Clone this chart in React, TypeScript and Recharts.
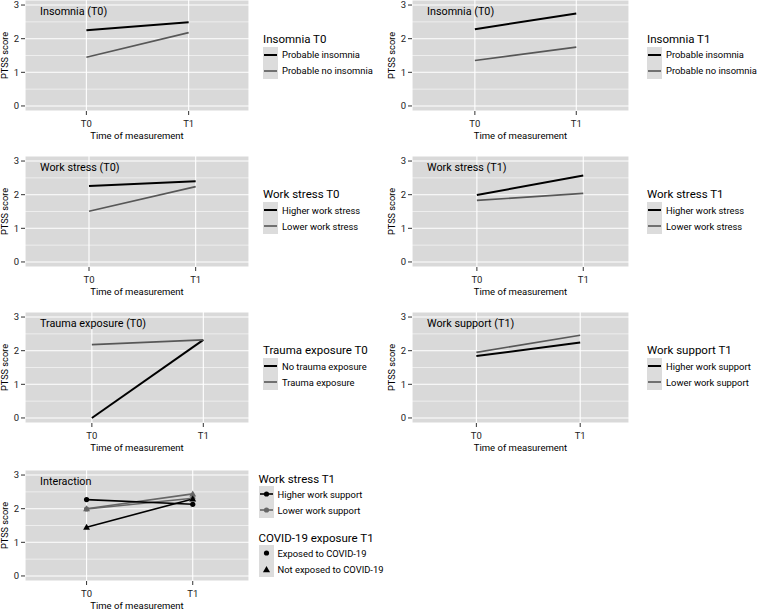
import React from 'react';
import { LineChart, Line, XAxis, YAxis, CartesianGrid } from 'recharts';

const timePoints = ['T0', 'T1'];
const yTicks = [0, 1, 2, 3];
const minorY = [0.5, 1.5, 2.5];

const insomniaT0Probable = [2.25, 2.49];
const insomniaT0NotProbable = [1.45, 2.18];
const insomniaT1Probable = [2.28, 2.75];
const insomniaT1NotProbable = [1.35, 1.75];
const workStressT0Higher = [2.26, 2.4];
const workStressT0Lower = [1.51, 2.24];
const workStressT1Higher = [1.99, 2.57];
const workStressT1Lower = [1.83, 2.04];
const traumaNone = [0.0, 2.32];
const traumaExposed = [2.18, 2.32];
const supportHigher = [1.84, 2.24];
const supportLower = [1.95, 2.46];
const higherExposed = [2.27, 2.13];
const higherNotExposed = [1.45, 2.29];
const lowerExposed = [1.99, 2.31];
const lowerNotExposed = [2.0, 2.44];

const BLACK = '#000000';
const GREY = '#575757';
const GREY_PT = '#666666';
const PANEL_BG = '#d9d9d9';
const KEY_BG = '#dcdcdc';
const FONT = 'Roboto, sans-serif';

type Shape = 'circle' | 'triangle';
type Series = { name: string; values: number[]; color: string; width: number; shape?: Shape };
type LegendItem = { label: string; color: string; width?: number; line: boolean; shape?: Shape };
type LegendGroup = { title: string; items: LegendItem[] };

type Panel = {
  title: string;
  series: Series[];
  legend: LegendGroup[];
  col: 0 | 1;
  plotTop: number;
  xDomain: [number, number];
  legendTop?: number;
  legendX?: number;
};

const cols = [
  { svgLeft: 0, axisW: 25, plotW: 224, legendX: 263, labelDx: -7.5 },
  { svgLeft: 384, axisW: 28, plotW: 217, legendX: 647, labelDx: -6 },
];

const pair = (a: string, b: string, va: number[], vb: number[]): Series[] => [
  { name: a, values: va, color: BLACK, width: 2 },
  { name: b, values: vb, color: GREY, width: 1.6 },
];
const pairLegend = (title: string, a: string, b: string): LegendGroup[] => [
  {
    title,
    items: [
      { label: a, color: BLACK, width: 2, line: true },
      { label: b, color: GREY, width: 1.6, line: true },
    ],
  },
];

const panels: Panel[] = [
  {
    title: 'Insomnia (T0)',
    series: pair('Probable insomnia', 'Probable no insomnia', insomniaT0Probable, insomniaT0NotProbable),
    legend: pairLegend('Insomnia T0', 'Probable insomnia', 'Probable no insomnia'),
    col: 0,
    plotTop: 0,
    xDomain: [0.4, 2.59],
  },
  {
    title: 'Insomnia (T0)',
    series: pair('Probable insomnia', 'Probable no insomnia', insomniaT1Probable, insomniaT1NotProbable),
    legend: pairLegend('Insomnia T1', 'Probable insomnia', 'Probable no insomnia'),
    col: 1,
    plotTop: 0,
    xDomain: [0.38, 2.52],
  },
  {
    title: 'Work stress (T0)',
    series: pair('Higher work stress', 'Lower work stress', workStressT0Higher, workStressT0Lower),
    legend: pairLegend('Work stress T0', 'Higher work stress', 'Lower work stress'),
    col: 0,
    plotTop: 155.5,
    xDomain: [0.4, 2.5],
  },
  {
    title: 'Work stress (T1)',
    series: pair('Higher work stress', 'Lower work stress', workStressT1Higher, workStressT1Lower),
    legend: pairLegend('Work stress T1', 'Higher work stress', 'Lower work stress'),
    col: 1,
    plotTop: 155.5,
    xDomain: [0.39, 2.43],
  },
  {
    title: 'Trauma exposure (T0)',
    series: pair('No trauma exposure', 'Trauma exposure', traumaNone, traumaExposed),
    legend: pairLegend('Trauma exposure T0', 'No trauma exposure', 'Trauma exposure'),
    col: 0,
    plotTop: 311.7,
    xDomain: [0.4, 2.41],
  },
  {
    title: 'Work support (T1)',
    series: pair('Higher work support', 'Lower work support', supportHigher, supportLower),
    legend: pairLegend('Work support T1', 'Higher work support', 'Lower work support'),
    col: 1,
    plotTop: 311.7,
    xDomain: [0.38, 2.47],
  },
  {
    title: 'Interaction',
    series: [
      { name: 'Lower, not exposed', values: lowerNotExposed, color: GREY_PT, width: 1.6, shape: 'triangle' },
      { name: 'Lower, exposed', values: lowerExposed, color: GREY_PT, width: 1.6, shape: 'circle' },
      { name: 'Higher, not exposed', values: higherNotExposed, color: BLACK, width: 1.6, shape: 'triangle' },
      { name: 'Higher, exposed', values: higherExposed, color: BLACK, width: 1.6, shape: 'circle' },
    ],
    legend: [
      {
        title: 'Work stress T1',
        items: [
          { label: 'Higher work support', color: BLACK, width: 1.6, line: true, shape: 'circle' },
          { label: 'Lower work support', color: GREY_PT, width: 1.6, line: true, shape: 'circle' },
        ],
      },
      {
        title: 'COVID-19 exposure T1',
        items: [
          { label: 'Exposed to COVID-19', color: BLACK, line: false, shape: 'circle' },
          { label: 'Not exposed to COVID-19', color: BLACK, line: false, shape: 'triangle' },
        ],
      },
    ],
    col: 0,
    plotTop: 469.5,
    xDomain: [0.42, 2.53],
    legendTop: 2.5,
    legendX: 258.5,
  },
];

const MARGIN_TOP = 6;
const PLOT_H = 111;
const XAXIS_H = 32;

const trianglePath = (cx: number, cy: number, s: number) =>
  `M${cx},${cy - s * 1.05} L${cx + s * 1.05},${cy + s * 0.8} L${cx - s * 1.05},${cy + s * 0.8} Z`;

const makeDot = (shape: Shape, color: string) => (props: any) => {
  const { cx, cy, index } = props;
  if (cx == null || cy == null) return <g key={index} />;
  if (shape === 'triangle') return <path key={index} d={trianglePath(cx, cy, 3.3)} fill={color} />;
  return <circle key={index} cx={cx} cy={cy} r={2.6} fill={color} />;
};

function KeyGlyph({ item, w }: { item: LegendItem; w: number }) {
  return (
    <svg width={w} height={16} style={{ display: 'block' }}>
      <rect x={0} y={0} width={w} height={16} fill={KEY_BG} />
      {item.line && <line x1={1} x2={w - 1} y1={8} y2={8} stroke={item.color} strokeWidth={item.width} />}
      {item.shape === 'circle' && <circle cx={w / 2} cy={8} r={2.6} fill={item.color} />}
      {item.shape === 'triangle' && <path d={trianglePath(w / 2, 8.5, 3.4)} fill={item.color} />}
    </svg>
  );
}

function PanelLegend({ groups, left, top }: { groups: LegendGroup[]; left: number; top: number }) {
  const multi = groups.length > 1;
  return (
    <div style={{ position: 'absolute', left, top, fontFamily: FONT, color: '#000' }}>
      {groups.map((g, gi) => (
        <div key={g.title} style={{ marginTop: gi > 0 ? 13 : 0 }}>
          <div style={{ fontSize: 11.5, height: multi ? 14 : 16, lineHeight: multi ? '14px' : '16px', whiteSpace: 'nowrap' }}>
            {g.title}
          </div>
          {g.items.map((it) => (
            <div key={it.label} style={{ display: 'flex', alignItems: 'center', height: 16 }}>
              <KeyGlyph item={it} w={15} />
              <span style={{ fontSize: 9.4, marginLeft: 4, whiteSpace: 'nowrap' }}>{it.label}</span>
            </div>
          ))}
        </div>
      ))}
    </div>
  );
}

function PanelChart({ p }: { p: Panel }) {
  const c = cols[p.col];
  const width = c.axisW + c.plotW + 1;
  const height = MARGIN_TOP + PLOT_H + XAXIS_H;
  const data = timePoints.map((t, i) => {
    const row: Record<string, number | string> = { x: i + 1, time: t };
    p.series.forEach((s, si) => {
      row['s' + si] = s.values[i];
    });
    return row;
  });
  const plotLeft = c.svgLeft + c.axisW;
  const legendX = p.legendX ?? c.legendX;
  const legendTop = p.plotTop + (p.legendTop ?? 30.5);
  return (
    <>
      <div style={{ position: 'absolute', left: c.svgLeft, top: p.plotTop - MARGIN_TOP }}>
        <LineChart width={width} height={height} data={data} margin={{ top: MARGIN_TOP, right: 1, left: 0, bottom: 0 }}>
          <CartesianGrid fill={PANEL_BG} stroke="#ffffff" strokeWidth={1.1} />
          <CartesianGrid horizontalValues={minorY} vertical={false} stroke="#ffffff" strokeWidth={0.55} />
          <XAxis
            dataKey="x"
            type="number"
            domain={p.xDomain}
            allowDataOverflow
            ticks={[1, 2]}
            tickFormatter={(v: number) => timePoints[v - 1]}
            axisLine={false}
            tickLine={{ stroke: '#333' }}
            tickSize={4}
            tickMargin={5}
            tick={{ fontSize: 9.5, fill: '#222' }}
            height={XAXIS_H}
            label={{ value: 'Time of measurement', position: 'insideBottom', offset: 4, fontSize: 9.5, fill: '#000' }}
          />
          <YAxis
            type="number"
            domain={[-0.15, 3.15]}
            allowDataOverflow
            ticks={yTicks}
            axisLine={false}
            tickLine={{ stroke: '#333' }}
            tickSize={4}
            tickMargin={2}
            tick={{ fontSize: 9.5, fill: '#222' }}
            width={c.axisW}
            label={{ value: 'PTSS score', angle: -90, position: 'center', dx: c.labelDx, fontSize: 9.2, fill: '#000' }}
          />
          {p.series.map((s, si) => (
            <Line
              key={s.name}
              dataKey={'s' + si}
              name={s.name}
              stroke={s.color}
              strokeWidth={s.width}
              type="linear"
              dot={s.shape ? makeDot(s.shape, s.color) : false}
              activeDot={false}
              isAnimationActive={false}
            />
          ))}
        </LineChart>
      </div>
      <div
        style={{
          position: 'absolute',
          left: plotLeft + 15,
          top: p.plotTop + 4,
          fontFamily: FONT,
          fontSize: 10.8,
          lineHeight: '16px',
          color: '#000',
          whiteSpace: 'nowrap',
        }}
      >
        {p.title}
      </div>
      <PanelLegend groups={p.legend} left={legendX} top={legendTop} />
    </>
  );
}

export default function App() {
  return (
    <div style={{ position: 'absolute', left: 0, top: 0, width: 757, height: 609, background: '#fff', overflow: 'hidden', fontFamily: FONT }}>
      {panels.map((p, i) => (
        <PanelChart key={i} p={p} />
      ))}
    </div>
  );
}
